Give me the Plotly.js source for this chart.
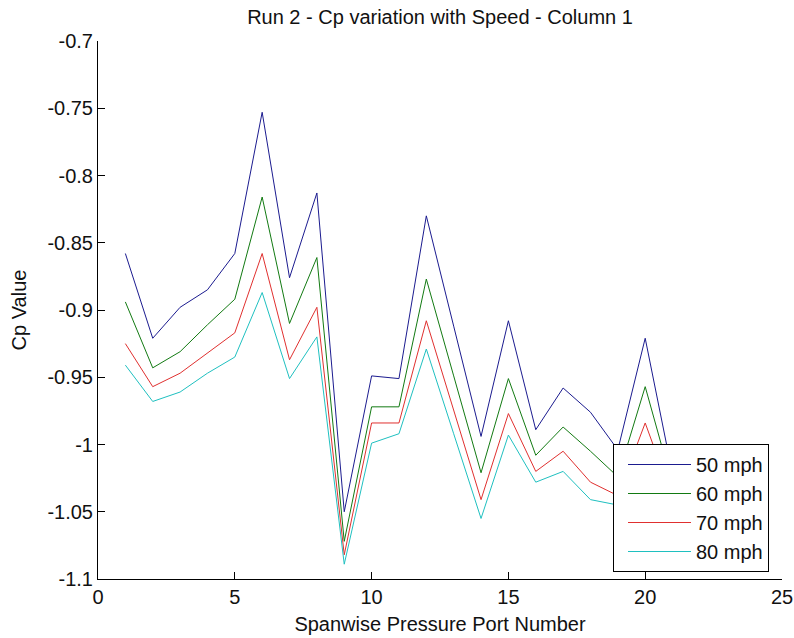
<!DOCTYPE html>
<html>
<head>
<meta charset="utf-8">
<script src="https://cdn.plot.ly/plotly-3.0.1.min.js"></script>
<style>html,body{margin:0;padding:0;background:#fff;}#chart{width:794px;height:638px;}</style>
</head>
<body>
<div id="chart"></div>
<script>
const ports = [1,2,3,4,5,6,7,8,9,10,11,12,13,14,15,16,17,18,19,20,21];
const seriesNames = ["50 mph","60 mph","70 mph","80 mph"];
const cp50 = [-0.858,-0.921,-0.898,-0.885,-0.858,-0.753,-0.876,-0.813,-1.050,-0.949,-0.951,-0.830,-0.912,-0.994,-0.908,-0.989,-0.958,-0.976,-1.004,-0.921,-1.022];
const cp60 = [-0.894,-0.943,-0.931,-0.911,-0.892,-0.816,-0.910,-0.861,-1.072,-0.972,-0.972,-0.877,-0.949,-1.021,-0.951,-1.008,-0.987,-1.005,-1.024,-0.957,-1.030];
const cp70 = [-0.925,-0.957,-0.947,-0.932,-0.917,-0.858,-0.937,-0.898,-1.082,-0.984,-0.984,-0.908,-0.974,-1.041,-0.977,-1.020,-1.005,-1.028,-1.038,-0.984,-1.040];
const cp80 = [-0.941,-0.968,-0.961,-0.947,-0.935,-0.887,-0.951,-0.920,-1.089,-0.999,-0.992,-0.929,-0.992,-1.055,-0.993,-1.028,-1.020,-1.041,-1.045,-1.005,-1.050];
const xTickVals = [0,5,10,15,20,25];
const xTickText = ["0","5","10","15","20","25"];
const yTickVals = [-1.1,-1.05,-1,-0.95,-0.9,-0.85,-0.8,-0.75,-0.7];
const yTickText = ["-1.1","-1.05","-1","-0.95","-0.9","-0.85","-0.8","-0.75","-0.7"];

const colors = ["#1b1b8f","#127a12","#e0302f","#1fc0c0"];
const allSeries = [cp50, cp60, cp70, cp80];

const traces = allSeries.map((ys, i) => ({
  x: ports, y: ys, type: "scatter", mode: "lines", name: seriesNames[i],
  line: {color: colors[i], width: 1}
}));

const font = {family: "Liberation Sans, Arial, sans-serif", size: 20, color: "#111"};

const layout = {
  width: 794, height: 638,
  margin: {l: 98, r: 12, t: 41, b: 59, pad: 0},
  paper_bgcolor: "#fff", plot_bgcolor: "#fff",
  font: font,
  title: {text: "Run 2 - Cp variation with Speed - Column 1", font: font,
          x: 0.5, xref: "paper", y: 1 - 16.5/638, yref: "container", yanchor: "middle"},
  xaxis: {range: [0,25], tickvals: xTickVals, ticktext: xTickText, ticks: "inside", ticklen: 7,
          tickcolor: "#000", showline: true, linecolor: "#000", linewidth: 1, showgrid: false,
          zeroline: false, tickfont: font, automargin: false,
          title: {text: "Spanwise Pressure Port Number", font: font, standoff: 9}},
  yaxis: {range: [-1.1,-0.7], tickvals: yTickVals, ticktext: yTickText, ticks: "inside", ticklen: 7,
          tickcolor: "#000", showline: true, linecolor: "#000", linewidth: 1, showgrid: false,
          zeroline: false, tickfont: font, automargin: false,
          title: {text: "Cp Value", font: font, standoff: 15}},
  showlegend: true,
  legend: {x: (613-98)/684, y: (579-444)/538, xanchor: "left", yanchor: "top",
           bgcolor: "#fff", bordercolor: "#000", borderwidth: 1, itemwidth: 63,
           indentation: 9, font: font, tracegroupgap: 0}
};

Plotly.newPlot("chart", traces, layout, {displayModeBar: false, staticPlot: true});
</script>
</body>
</html>
